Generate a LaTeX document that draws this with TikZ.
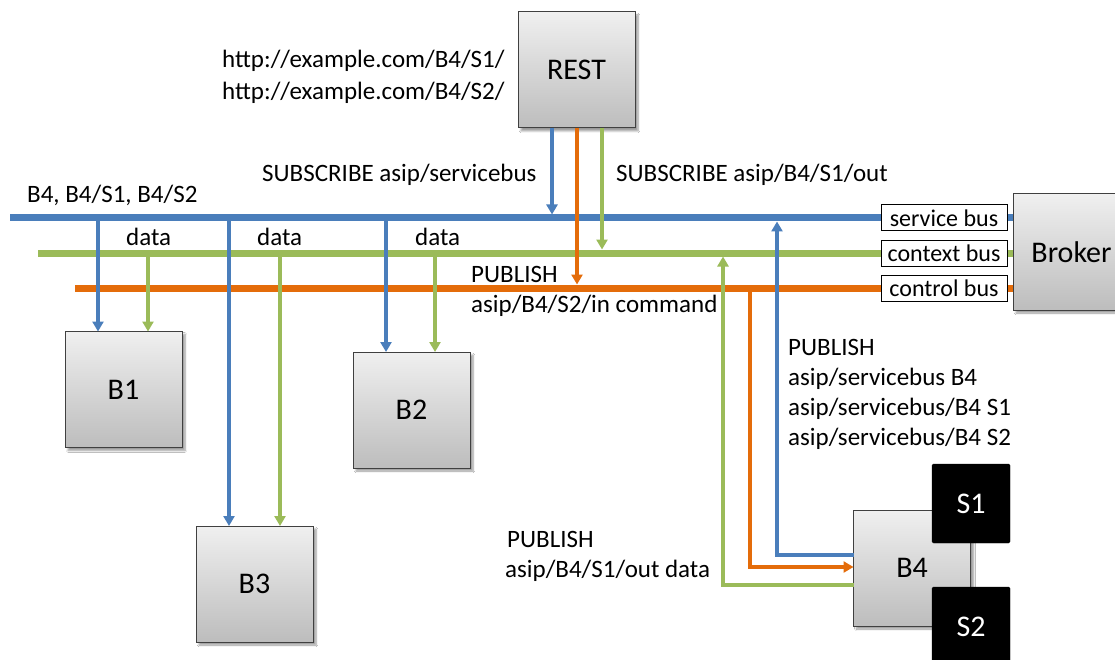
\documentclass[tikz,border=0pt]{standalone}
\usepackage{fontspec}
\setmainfont{Carlito}
\usetikzlibrary{arrows.meta,shadows.blur}
\definecolor{cblue}{HTML}{4A7EBB}
\definecolor{cgreen}{HTML}{9BBB59}
\definecolor{corange}{HTML}{E46C0A}
\begin{document}
\begin{tikzpicture}[x=1pt,y=-1pt,
 box/.style={draw=black!75, line width=1pt, top color=black!6, bottom color=black!26,
   minimum width=117pt, minimum height=116pt, inner sep=0pt, outer sep=0pt,
   font=\fontsize{30}{36}\selectfont,
   blur shadow={shadow xshift=3pt, shadow yshift=-3pt, shadow blur steps=6, shadow opacity=40}},
 sbox/.style={fill=black, draw=black, rounded corners=1.5pt, text=white,
   minimum width=78pt, minimum height=79pt, inner sep=0pt, outer sep=0pt,
   font=\fontsize{30}{36}\selectfont},
 bus/.style={line width=7pt},
 link/.style={line width=3.5pt},
 tip/.style={-{Triangle[length=10pt,width=11pt]}},
 lbl/.style={anchor=base west, inner sep=0pt, font=\fontsize{25}{31}\selectfont},
 buslbl/.style={draw=black, line width=1pt, fill=white, minimum width=126pt,
   minimum height=26pt, inner sep=0pt, font=\fontsize{24}{28}\selectfont}]
\useasboundingbox (0,0) rectangle (1115,660);
\fill[white] (0,0) rectangle (1115,660);

% boxes
\node[box] (REST) at (576.5,70) {REST};
\node[box] (Broker) at (1071.5,252) {Broker};
\node[box] (B1) at (123.5,389.5) {B1};
\node[box] (B2) at (411.5,410) {B2};
\node[box] (B3) at (254.5,584) {B3};
\node[box] (B4) at (912,568) {B4};
\node[sbox] (S1) at (971,503.5) {S1};
\node[sbox] (S2) at (971,626.5) {S2};

% buses
\coordinate (sbL) at (10,218);
\coordinate (cbL) at (38,253);
\coordinate (obL) at (75,288);
\draw[bus,cblue] (sbL) -- (Broker.west |- sbL);
\draw[bus,cgreen] (cbL) -- (Broker.west |- cbL);
\draw[bus,corange] (obL) -- (Broker.west |- obL);

% drops to B1, B2, B3
\coordinate (s1) at (98,218);
\coordinate (c1) at (148,253);
\coordinate (s3) at (229,218);
\coordinate (c3) at (280,253);
\coordinate (s2) at (386,218);
\coordinate (c2) at (435,253);
\draw[link,cblue,tip] (s1) -- (s1 |- B1.north);
\draw[link,cgreen,tip] (c1) -- (c1 |- B1.north);
\draw[link,cblue,tip] (s3) -- (s3 |- B3.north);
\draw[link,cgreen,tip] (c3) -- (c3 |- B3.north);
\draw[link,cblue,tip] (s2) -- (s2 |- B2.north);
\draw[link,cgreen,tip] (c2) -- (c2 |- B2.north);

% REST subscriptions
\coordinate (rs) at (552,214.5);
\coordinate (ro) at (577,284.5);
\coordinate (rc) at (602,249.5);
\draw[link,cblue,tip] (REST.south -| rs) -- (rs);
\draw[link,corange,tip] (REST.south -| ro) -- (ro);
\draw[link,cgreen,tip] (REST.south -| rc) -- (rc);

% B4 links
\coordinate (b4s) at (777,221.5);
\coordinate (b4o) at (750,288);
\coordinate (b4c) at (723,256.5);
\draw[link,cblue,tip] ([yshift=13pt]B4.west) -| (b4s);
\draw[link,corange,tip] (b4o) |- ([yshift=1pt]B4.west);
\draw[link,cgreen,tip] ([yshift=-17pt]B4.west) -| (b4c);

% bus labels
\node[buslbl] (lsb) at (944,218) {service bus};
\node[buslbl] (lcb) at (944,253) {context bus};
\node[buslbl] (lob) at (944,288) {control bus};

% texts
\node[lbl] (url1) at (222,68) {http://example.com/B4/S1/};
\node[lbl] (url2) at (222,100) {http://example.com/B4/S2/};
\node[lbl] (sub1) at (262,182) {SUBSCRIBE asip/servicebus};
\node[lbl] (sub2) at (616,182) {SUBSCRIBE asip/B4/S1/out};
\node[lbl] (ids) at (27,203) {B4, B4/S1, B4/S2};
\node[lbl] (d1) at (126,245) {data};
\node[lbl] (d2) at (257,245) {data};
\node[lbl] (d3) at (415,245) {data};
\node[lbl] (pub1) at (471,282) {PUBLISH};
\node[lbl] (pub1b) at (471,312) {asip/B4/S2/in command};
\node[lbl] (pub2) at (788,355) {PUBLISH};
\node[lbl] (pub2b) at (788,385) {asip/servicebus B4};
\node[lbl] (pub2c) at (788,415) {asip/servicebus/B4 S1};
\node[lbl] (pub2d) at (788,445) {asip/servicebus/B4 S2};
\node[lbl] (pub3) at (507,547) {PUBLISH};
\node[lbl] (pub3b) at (505,577) {asip/B4/S1/out data};
\end{tikzpicture}
\end{document}
